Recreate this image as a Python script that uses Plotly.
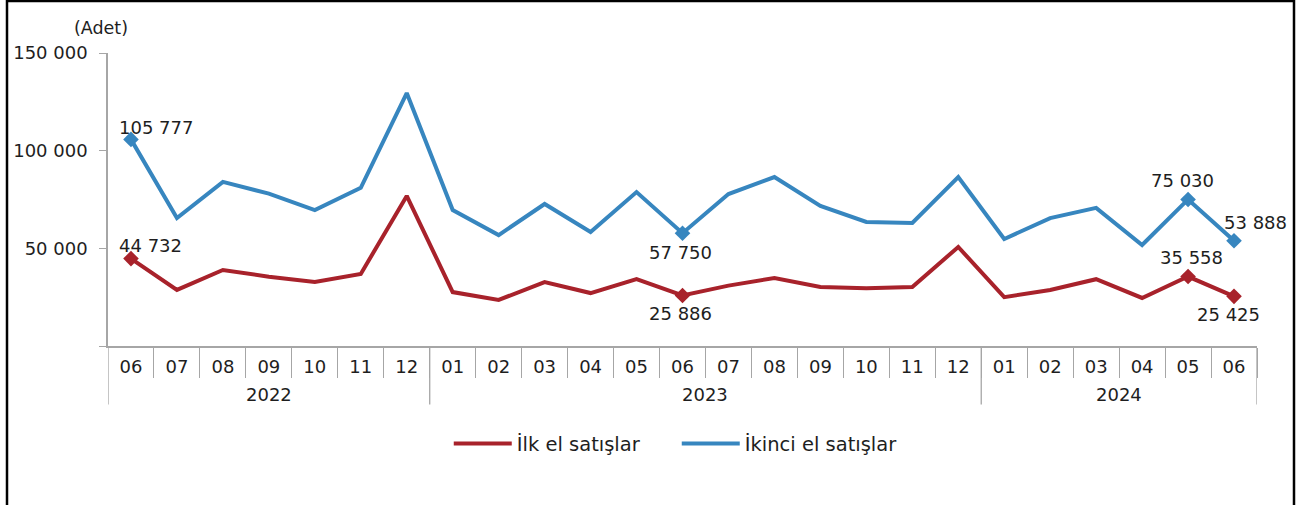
import plotly.graph_objects as go

years = ["2022", "2023", "2024"]
year_counts = [7, 12, 6]
months = ["06", "07", "08", "09", "10", "11", "12",
          "01", "02", "03", "04", "05", "06", "07", "08", "09", "10", "11", "12",
          "01", "02", "03", "04", "05", "06"]

ilk_el = [44732, 28700, 38900, 35500, 32800, 36900, 76800,
          27600, 23600, 32700, 27100, 34200, 25886, 30900, 34800, 30200, 29600, 30200, 50700,
          25000, 28700, 34200, 24600, 35558, 25425]
ikinci_el = [105777, 65500, 84000, 78000, 69600, 81000, 129500,
             69600, 56800, 72700, 58400, 78800, 57750, 77800, 86500, 71700, 63500, 63000, 86500,
             54800, 65500, 70700, 51700, 75030, 53888]

labeled_idx = [0, 12, 23, 24]

y_tickvals = [0, 50000, 100000, 150000]
y_ticktext = ["", "50 000", "100 000", "150 000"]

RED = "#A8222B"
BLUE = "#3786BF"
GRAY = "#A6A6A6"
FONT = "DejaVu Sans, Liberation Sans, Arial, sans-serif"
TXT = "#1e1e1e"


def fmt(v):
    return f"{v:,}".replace(",", " ")


xs = list(range(len(months)))

fig = go.Figure()
for name, vals, col in [("İlk el satışlar", ilk_el, RED), ("İkinci el satışlar", ikinci_el, BLUE)]:
    fig.add_trace(go.Scatter(
        x=xs, y=vals, name=name, mode="lines",
        line=dict(color=col, width=4), hoverinfo="skip",
    ))
    fig.add_trace(go.Scatter(
        x=[xs[i] for i in labeled_idx], y=[vals[i] for i in labeled_idx],
        mode="markers", showlegend=False, hoverinfo="skip",
        marker=dict(symbol="diamond", size=12, color=col),
    ))

# label offsets (pixels) for the labelled points: (series, index, dx, dy)
label_offsets = [
    ("ikinci", 0, 25, 12), ("ilk", 0, 20, 13),
    ("ikinci", 12, -2, -19), ("ilk", 12, -2, -18),
    ("ikinci", 23, -6, 19), ("ilk", 23, 3, 19),
    ("ikinci", 24, 21, 18), ("ilk", 24, -6, -18),
]
series = {"ilk": ilk_el, "ikinci": ikinci_el}
annotations = []
for s, i, dx, dy in label_offsets:
    v = series[s][i]
    annotations.append(dict(
        x=xs[i], y=v, xref="x", yref="y", text=fmt(v), showarrow=False,
        xshift=dx, yshift=dy, font=dict(family=FONT, size=18, color=TXT),
    ))

# year group labels and dividers
boundaries = [-0.5]
for c in year_counts:
    boundaries.append(boundaries[-1] + c)
shapes = []
for b in boundaries:
    shapes.append(dict(type="line", xref="x", yref="y domain", x0=b, x1=b, y0=0, y1=-0.2,
                       line=dict(color=GRAY, width=1.3)))
for k, yr in enumerate(years):
    annotations.append(dict(
        x=(boundaries[k] + boundaries[k + 1]) / 2, y=-0.167, xref="x", yref="paper",
        text=yr, showarrow=False, yanchor="middle",
        font=dict(family=FONT, size=18, color=TXT),
    ))

annotations.append(dict(
    x=-0.006, y=1.085, xref="paper", yref="paper", text="(Adet)", showarrow=False,
    xanchor="center", yanchor="middle", font=dict(family=FONT, size=17.5, color=TXT),
))

shapes.append(dict(type="rect", xref="paper", yref="paper",
                   x0=-0.0879, x1=1.0322, y0=-0.6, y1=1.1775,
                   line=dict(color="black", width=2.5), layer="above"))

fig.update_layout(
    width=1297, height=505,
    margin=dict(l=108, r=40, t=53, b=159),
    paper_bgcolor="white", plot_bgcolor="white",
    font=dict(family=FONT, size=18, color=TXT),
    showlegend=True,
    legend=dict(orientation="h", x=0.495, y=-0.334, xanchor="center", yanchor="middle",
                font=dict(family=FONT, size=19.5, color=TXT), itemwidth=58,
                entrywidth=155, entrywidthmode="pixels", tracegroupgap=0),
    annotations=annotations,
    shapes=shapes,
)

fig.update_xaxes(
    range=[-0.5, len(months) - 0.5], tickmode="array", tickvals=xs, ticktext=months,
    showline=True, linecolor=GRAY, linewidth=1.5, ticks="", ticklabelstandoff=4,
    minor=dict(tickmode="array", tickvals=[x + 0.5 for x in xs],
               ticks="outside", ticklen=30, tickcolor=GRAY, tickwidth=1.3, showgrid=False),
    showgrid=False, zeroline=False, tickfont=dict(family=FONT, size=18, color=TXT),
)
fig.update_yaxes(
    range=[0, 150000], tickvals=y_tickvals, ticktext=y_ticktext,
    showline=True, linecolor=GRAY, linewidth=1.5,
    ticks="outside", ticklen=7, tickcolor=GRAY, showgrid=False, zeroline=False,
    ticklabelstandoff=8,
    tickfont=dict(family=FONT, size=18, color=TXT),
)

fig.write_html("out.html", config={"displayModeBar": False},
               post_script="document.body.style.margin='0';")
